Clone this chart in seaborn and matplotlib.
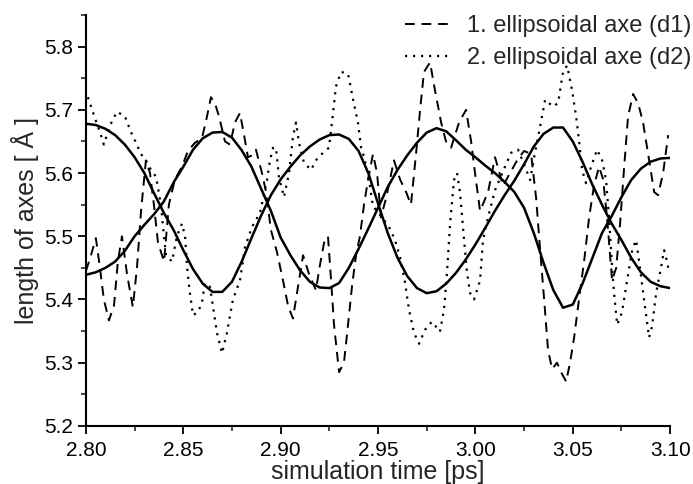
import numpy as np
import matplotlib
matplotlib.use("Agg")
import matplotlib.pyplot as plt
from matplotlib.ticker import MultipleLocator
import seaborn as sns

# raw trajectories (ps, Angstrom)
t_d1 = [2.8000, 2.8026, 2.8051, 2.8072, 2.8092, 2.8118, 2.8144, 2.8164, 2.8185, 2.8211,
        2.8241, 2.8262, 2.8283, 2.8308, 2.8329, 2.8349, 2.8370, 2.8401, 2.8426, 2.8457,
        2.8493, 2.8524, 2.8560, 2.8596, 2.8622, 2.8642, 2.8663, 2.8683, 2.8714, 2.8740,
        2.8765, 2.8791, 2.8812, 2.8832, 2.8853, 2.8873, 2.8904, 2.8925, 2.8950, 2.8981,
        2.9012, 2.9038, 2.9063, 2.9089, 2.9115, 2.9146, 2.9181, 2.9202, 2.9223, 2.9243,
        2.9259, 2.9274, 2.9300, 2.9325, 2.9346, 2.9366, 2.9387, 2.9407, 2.9428, 2.9449,
        2.9474, 2.9495, 2.9515, 2.9541, 2.9582, 2.9613, 2.9644, 2.9669, 2.9695, 2.9716,
        2.9736, 2.9767, 2.9793, 2.9824, 2.9849, 2.9875, 2.9916, 2.9952, 2.9978, 2.9998,
        3.0024, 3.0065, 3.0101, 3.0142, 3.0178, 3.0214, 3.0250, 3.0286, 3.0312, 3.0332,
        3.0353, 3.0373, 3.0394, 3.0419, 3.0440, 3.0466, 3.0486, 3.0507, 3.0532, 3.0558,
        3.0584, 3.0609, 3.0635, 3.0656, 3.0676, 3.0702, 3.0723, 3.0743, 3.0764, 3.0784,
        3.0810, 3.0836, 3.0861, 3.0887, 3.0918, 3.0938, 3.0964, 3.0990]
d1 = [5.445, 5.470, 5.497, 5.450, 5.400, 5.367, 5.390, 5.460, 5.500, 5.440,
      5.388, 5.450, 5.540, 5.620, 5.600, 5.550, 5.490, 5.460, 5.550, 5.590,
      5.610, 5.635, 5.648, 5.655, 5.690, 5.720, 5.710, 5.690, 5.650, 5.645,
      5.680, 5.695, 5.660, 5.625, 5.628, 5.637, 5.600, 5.570, 5.510, 5.475,
      5.430, 5.390, 5.370, 5.420, 5.470, 5.440, 5.415, 5.455, 5.490, 5.500,
      5.430, 5.360, 5.285, 5.300, 5.360, 5.420, 5.470, 5.500, 5.550, 5.590,
      5.630, 5.600, 5.530, 5.560, 5.620, 5.590, 5.570, 5.550, 5.630, 5.700,
      5.760, 5.775, 5.730, 5.680, 5.650, 5.640, 5.680, 5.700, 5.650, 5.600,
      5.540, 5.570, 5.625, 5.580, 5.600, 5.620, 5.635, 5.630, 5.560, 5.480,
      5.400, 5.320, 5.290, 5.300, 5.285, 5.270, 5.300, 5.340, 5.400, 5.460,
      5.530, 5.580, 5.610, 5.590, 5.530, 5.430, 5.450, 5.520, 5.610, 5.690,
      5.725, 5.710, 5.680, 5.630, 5.570, 5.565, 5.600, 5.660]

t_d2 = [2.8010, 2.8046, 2.8072, 2.8092, 2.8123, 2.8159, 2.8200, 2.8231, 2.8257, 2.8283,
        2.8308, 2.8334, 2.8360, 2.8385, 2.8401, 2.8411, 2.8442, 2.8467, 2.8493, 2.8509,
        2.8519, 2.8534, 2.8550, 2.8575, 2.8596, 2.8611, 2.8637, 2.8652, 2.8673, 2.8699,
        2.8724, 2.8755, 2.8791, 2.8817, 2.8853, 2.8894, 2.8930, 2.8945, 2.8961, 2.8976,
        2.8991, 2.9017, 2.9043, 2.9063, 2.9079, 2.9094, 2.9120, 2.9156, 2.9181, 2.9217,
        2.9248, 2.9269, 2.9284, 2.9310, 2.9346, 2.9372, 2.9397, 2.9413, 2.9428, 2.9454,
        2.9474, 2.9495, 2.9556, 2.9587, 2.9613, 2.9639, 2.9659, 2.9685, 2.9711, 2.9741,
        2.9777, 2.9818, 2.9839, 2.9854, 2.9870, 2.9890, 2.9906, 2.9921, 2.9942, 2.9957,
        2.9973, 2.9993, 3.0024, 3.0039, 3.0065, 3.0101, 3.0152, 3.0183, 3.0219, 3.0255,
        3.0281, 3.0306, 3.0332, 3.0358, 3.0399, 3.0425, 3.0450, 3.0471, 3.0497, 3.0517,
        3.0532, 3.0548, 3.0568, 3.0594, 3.0625, 3.0651, 3.0671, 3.0687, 3.0702, 3.0712,
        3.0728, 3.0753, 3.0779, 3.0805, 3.0825, 3.0841, 3.0866, 3.0892, 3.0907, 3.0928,
        3.0954, 3.0969, 3.0984, 3.0995]
d2 = [5.720, 5.687, 5.665, 5.645, 5.675, 5.697, 5.690, 5.665, 5.648, 5.630,
      5.620, 5.605, 5.594, 5.550, 5.500, 5.470, 5.460, 5.500, 5.520, 5.500,
      5.452, 5.410, 5.375, 5.380, 5.395, 5.426, 5.420, 5.390, 5.347, 5.315,
      5.347, 5.400, 5.430, 5.483, 5.515, 5.537, 5.589, 5.620, 5.640, 5.640,
      5.594, 5.562, 5.600, 5.657, 5.680, 5.648, 5.616, 5.605, 5.620, 5.632,
      5.640, 5.695, 5.737, 5.760, 5.757, 5.716, 5.680, 5.640, 5.626, 5.589,
      5.547, 5.540, 5.515, 5.494, 5.467, 5.426, 5.384, 5.347, 5.330, 5.352,
      5.365, 5.349, 5.384, 5.442, 5.520, 5.589, 5.600, 5.569, 5.494, 5.442,
      5.410, 5.400, 5.430, 5.494, 5.530, 5.573, 5.610, 5.632, 5.637, 5.610,
      5.589, 5.632, 5.673, 5.716, 5.705, 5.711, 5.760, 5.770, 5.730, 5.690,
      5.652, 5.605, 5.584, 5.610, 5.637, 5.620, 5.589, 5.526, 5.452, 5.410,
      5.360, 5.380, 5.430, 5.478, 5.494, 5.460, 5.400, 5.340, 5.357, 5.410,
      5.452, 5.478, 5.460, 5.442]

# smooth fitted curves, sampled every 5 fs
t_fit = np.round(np.arange(2.800, 3.1001, 0.005), 3)
fit_a = [5.678, 5.676, 5.670, 5.660, 5.645, 5.625, 5.600, 5.568, 5.537, 5.510,
         5.478, 5.448, 5.425, 5.412, 5.412, 5.428, 5.460, 5.497, 5.533, 5.565,
         5.590, 5.610, 5.628, 5.642, 5.653, 5.660, 5.661, 5.654, 5.635, 5.600,
         5.552, 5.505, 5.466, 5.437, 5.418, 5.410, 5.413, 5.425, 5.442, 5.463,
         5.487, 5.513, 5.540, 5.565, 5.588, 5.614, 5.642, 5.662, 5.672, 5.672,
         5.650, 5.618, 5.582, 5.550, 5.520, 5.494, 5.466, 5.443, 5.428, 5.421,
         5.418]
fit_b = [5.439, 5.443, 5.450, 5.460, 5.477, 5.500, 5.518, 5.535, 5.555, 5.585,
         5.610, 5.637, 5.655, 5.664, 5.665, 5.656, 5.636, 5.610, 5.575, 5.540,
         5.498, 5.470, 5.446, 5.428, 5.419, 5.418, 5.426, 5.450, 5.480, 5.512,
         5.545, 5.578, 5.605, 5.628, 5.648, 5.664, 5.671, 5.666, 5.652, 5.637,
         5.625, 5.612, 5.600, 5.586, 5.570, 5.545, 5.505, 5.458, 5.415, 5.387,
         5.392, 5.425, 5.465, 5.505, 5.532, 5.562, 5.589, 5.607, 5.618, 5.623,
         5.624]

sns.set_style("ticks")
plt.rcParams['font.family'] = ['Liberation Sans', 'DejaVu Sans']

fig = plt.figure(figsize=(6.93, 4.84), dpi=100)
ax = fig.add_axes([0.124, 0.12, 0.843, 0.849])

sns.lineplot(x=t_d1, y=d1, ax=ax, color='black', linewidth=1.4, sort=False,
             linestyle=(0, (5, 3.5)), label='1. ellipsoidal axe (d1)')
sns.lineplot(x=t_d2, y=d2, ax=ax, color='black', linewidth=1.6, sort=False,
             linestyle=(0, (1, 2.6)), label='2. ellipsoidal axe (d2)')
sns.lineplot(x=t_fit, y=fit_a, ax=ax, color='black', linewidth=1.8, sort=False)
sns.lineplot(x=t_fit, y=fit_b, ax=ax, color='black', linewidth=1.8, sort=False)

ax.set_xlim(2.80, 3.10)
ax.set_ylim(5.2, 5.85)
ax.xaxis.set_major_locator(MultipleLocator(0.05))
ax.xaxis.set_minor_locator(MultipleLocator(0.025))
ax.yaxis.set_major_locator(MultipleLocator(0.1))
ax.yaxis.set_minor_locator(MultipleLocator(0.05))
ax.set_xticklabels([f"{v:.2f}" for v in ax.get_xticks()])
ax.set_yticklabels([f"{v:.1f}" for v in ax.get_yticks()])
ax.tick_params(axis='both', which='major', direction='out', length=6, width=1.3,
               labelsize=15, colors='black', pad=3)
ax.tick_params(axis='x', which='major', pad=4.5)
ax.tick_params(axis='both', which='minor', direction='out', length=3.5, width=1.2)

for side in ['left', 'bottom']:
    ax.spines[side].set_linewidth(1.5)
    ax.spines[side].set_color('black')
sns.despine(ax=ax)

ax.set_xlabel('simulation time [ps]', fontsize=18, labelpad=0)
ax.set_ylabel('length of axes [ Å ]', fontsize=18, labelpad=4)

ax.legend(loc='upper right', bbox_to_anchor=(0.997, 0.968),
          bbox_transform=fig.transFigure, frameon=False,
          fontsize=17, handlelength=1.95, handletextpad=0.65, labelspacing=0.4,
          borderaxespad=0, borderpad=0)

fig.savefig('out.png', dpi=100)
plt.close(fig)
